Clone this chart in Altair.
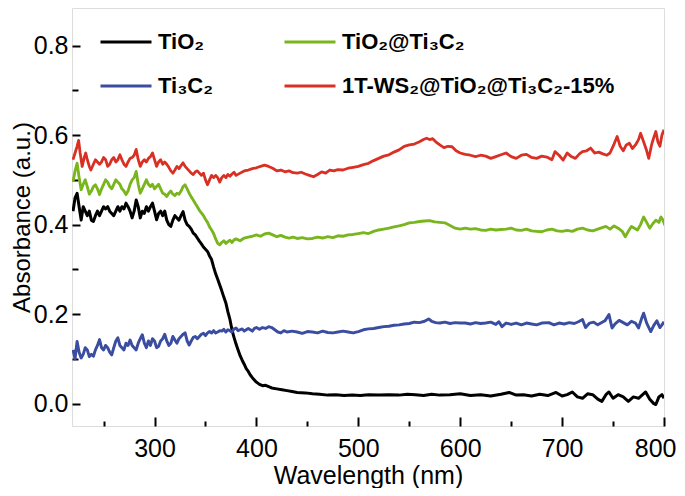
import altair as alt
import pandas as pd

# legend is filled column by column: TiO2, Ti3C2 | TiO2@Ti3C2, 1T-WS2@...
series_names = ["TiO₂", "Ti₃C₂", "TiO₂@Ti₃C₂", "1T-WS₂@TiO₂@Ti₃C₂-15%"]
series_colors = ["#000000", "#3A4DA0", "#79B51C", "#DA3024"]
series_widths = [3.0, 2.8, 3.0, 2.8]

x_major = [300, 400, 500, 600, 700, 800]
x_minor = [250, 350, 450, 550, 650, 750]
y_major = [0.0, 0.2, 0.4, 0.6, 0.8]
y_minor = [0.1, 0.3, 0.5, 0.7]

# TiO2 (black)
tio2_wl = [220, 222, 224, 226, 228, 230, 232, 234, 236, 238, 240, 242, 244, 246, 248, 250, 252, 254, 256, 258,
           260, 262, 264, 266, 268, 270, 272, 274, 276, 278, 280, 282, 284, 286, 288, 290, 292, 294, 296, 298,
           300, 302, 304, 306, 308, 310, 312, 314, 316, 318, 320, 322, 324, 326, 328, 330, 332, 334, 336, 338,
           340, 342, 344, 346, 348, 350, 352, 354, 356, 358, 360, 362, 364, 366, 368, 370, 372, 374, 376, 378,
           380, 382, 384, 386, 388, 390, 392, 394, 396, 398, 400, 403, 406, 409, 412, 415, 420, 425, 430, 435,
           440, 448, 455, 462, 470, 478, 486, 494, 502, 510, 520, 530, 540, 548, 556, 564, 572, 580, 590, 600,
           610, 620, 630, 640, 648, 655, 662, 670, 678, 686, 694, 700, 705, 710, 715, 720, 725, 730, 735, 739,
           743, 746, 750, 755, 760, 765, 770, 775, 779, 782, 786, 790, 792, 795, 798, 800]
tio2_abs = [0.43, 0.46, 0.47, 0.44, 0.41, 0.44, 0.43, 0.42, 0.43, 0.41, 0.407, 0.42, 0.43, 0.42, 0.43, 0.44, 0.435, 0.44, 0.43, 0.425,
            0.42, 0.43, 0.44, 0.43, 0.44, 0.435, 0.448, 0.44, 0.43, 0.415, 0.43, 0.455, 0.44, 0.415, 0.43, 0.425, 0.44, 0.43, 0.44, 0.448,
            0.43, 0.411, 0.425, 0.43, 0.42, 0.43, 0.41, 0.40, 0.396, 0.41, 0.42, 0.415, 0.41, 0.42, 0.429, 0.41, 0.40, 0.396, 0.39, 0.381,
            0.377, 0.37, 0.363, 0.357, 0.35, 0.345, 0.34, 0.33, 0.322, 0.305, 0.29, 0.278, 0.265, 0.252, 0.238, 0.225, 0.205, 0.188, 0.165, 0.148,
            0.133, 0.12, 0.107, 0.097, 0.088, 0.078, 0.072, 0.064, 0.058, 0.053, 0.048, 0.043, 0.040, 0.041, 0.038, 0.035, 0.033, 0.031, 0.029, 0.027,
            0.025, 0.024, 0.022, 0.021, 0.019, 0.02, 0.018, 0.019, 0.018, 0.02, 0.019, 0.02, 0.019, 0.021, 0.02, 0.018, 0.021, 0.019, 0.02, 0.022,
            0.018, 0.02, 0.017, 0.021, 0.025, 0.019, 0.02, 0.017, 0.021, 0.018, 0.025, 0.017, 0.02, 0.026, 0.015, 0.012, 0.022, 0.02, 0.01, 0.005,
            0.02, 0.026, 0.012, 0.02, 0.015, 0.005, 0.015, 0.012, 0.02, 0.026, 0.01, 0.0, -0.002, 0.015, 0.02, 0.012]

# Ti3C2 (blue)
ti3c2_wl = [220, 222, 224, 226, 228, 230, 232, 234, 236, 238, 240, 242, 244, 246, 248, 250, 252, 254, 256, 258,
            260, 262, 264, 266, 268, 270, 272, 274, 276, 278, 280, 282, 284, 286, 288, 290, 292, 294, 296, 298,
            300, 302, 304, 306, 308, 310, 312, 314, 316, 318, 320, 322, 324, 326, 328, 330, 332, 334, 336, 338,
            340, 342, 344, 346, 348, 350, 352, 354, 356, 358, 360, 362, 364, 366, 368, 370, 372, 374, 376, 378,
            380, 382, 384, 386, 388, 390, 392, 394, 396, 398, 400, 403, 406, 409, 412, 415, 418, 421, 424, 427,
            430, 435, 440, 445, 450, 455, 460, 465, 470, 475, 480, 485, 490, 495, 500, 505, 510, 515, 520, 525,
            530, 535, 540, 545, 550, 555, 560, 565, 569, 572, 576, 580, 585, 590, 595, 600, 605, 610, 615, 620,
            625, 630, 635, 638, 641, 645, 650, 655, 660, 665, 670, 675, 680, 687, 692, 697, 702, 707, 712, 716,
            720, 723, 727, 731, 735, 738, 742, 746, 749, 752, 756, 760, 764, 768, 772, 775, 778, 780, 783, 787,
            790, 793, 796, 798, 800]
ti3c2_abs = [0.12, 0.10, 0.139, 0.115, 0.102, 0.11, 0.125, 0.12, 0.105, 0.11, 0.106, 0.12, 0.13, 0.143, 0.125, 0.12, 0.13, 0.125, 0.115, 0.109,
             0.125, 0.14, 0.147, 0.13, 0.125, 0.12, 0.135, 0.13, 0.142, 0.13, 0.125, 0.12, 0.135, 0.145, 0.154, 0.135, 0.125, 0.14, 0.13, 0.145,
             0.14, 0.125, 0.128, 0.14, 0.145, 0.155, 0.14, 0.13, 0.135, 0.15, 0.142, 0.135, 0.145, 0.15, 0.155, 0.158, 0.14, 0.131, 0.14, 0.148,
             0.15, 0.145, 0.15, 0.155, 0.157, 0.152, 0.158, 0.161, 0.158, 0.163, 0.158, 0.16, 0.163, 0.162, 0.166, 0.16, 0.165, 0.163, 0.16, 0.167,
             0.169, 0.163, 0.165, 0.167, 0.162, 0.165, 0.168, 0.165, 0.162, 0.168, 0.17, 0.166, 0.17, 0.168, 0.172, 0.17, 0.165, 0.16, 0.158, 0.163,
             0.16, 0.162, 0.16, 0.157, 0.161, 0.16, 0.158, 0.162, 0.159, 0.158, 0.16, 0.162, 0.16, 0.158, 0.161, 0.165, 0.167, 0.168, 0.17, 0.172,
             0.173, 0.175, 0.176, 0.178, 0.179, 0.182, 0.181, 0.184, 0.189, 0.184, 0.181, 0.18, 0.182, 0.179, 0.181, 0.18, 0.18, 0.178, 0.181, 0.179,
             0.18, 0.182, 0.177, 0.183, 0.172, 0.18, 0.177, 0.18, 0.176, 0.18, 0.178, 0.176, 0.18, 0.181, 0.176, 0.18, 0.178, 0.181, 0.179, 0.183,
             0.188, 0.17, 0.18, 0.182, 0.176, 0.18, 0.185, 0.199, 0.169, 0.178, 0.186, 0.181, 0.176, 0.184, 0.18, 0.169, 0.19, 0.202, 0.18, 0.161,
             0.175, 0.185, 0.17, 0.176, 0.183]

# TiO2@Ti3C2 (green)
tio2ti3c2_wl = [220, 222, 224, 226, 228, 230, 232, 234, 236, 238, 240, 242, 244, 246, 248, 250, 252, 254, 256, 258,
                260, 262, 264, 266, 268, 270, 272, 274, 276, 278, 280, 282, 284, 286, 288, 290, 292, 294, 296, 298,
                300, 302, 304, 306, 308, 310, 312, 314, 316, 318, 320, 322, 324, 326, 328, 330, 332, 334, 336, 338,
                340, 342, 344, 346, 348, 350, 352, 354, 356, 358, 360, 362, 364, 366, 368, 370, 372, 374, 376, 378,
                380, 384, 388, 392, 396, 400, 404, 408, 412, 416, 420, 424, 428, 432, 436, 440, 445, 450, 455, 460,
                465, 470, 475, 480, 485, 490, 495, 500, 505, 510, 515, 520, 525, 530, 535, 540, 545, 550, 555, 560,
                565, 570, 575, 580, 585, 590, 595, 600, 605, 610, 615, 620, 625, 630, 635, 640, 645, 650, 655, 660,
                665, 670, 675, 680, 685, 690, 695, 700, 705, 710, 715, 720, 725, 730, 735, 740, 743, 747, 751, 755,
                759, 762, 765, 768, 771, 774, 777, 780, 783, 786, 789, 792, 795, 797, 799, 801]
tio2ti3c2_abs = [0.496, 0.52, 0.537, 0.505, 0.478, 0.49, 0.50, 0.485, 0.468, 0.475, 0.485, 0.489, 0.48, 0.467, 0.48, 0.49, 0.50, 0.495, 0.485, 0.48,
                 0.49, 0.50, 0.495, 0.49, 0.48, 0.475, 0.467, 0.475, 0.49, 0.50, 0.505, 0.519, 0.49, 0.47, 0.48, 0.49, 0.50, 0.49, 0.485, 0.49,
                 0.48, 0.485, 0.49, 0.48, 0.47, 0.468, 0.463, 0.47, 0.475, 0.468, 0.465, 0.47, 0.468, 0.475, 0.485, 0.489, 0.48, 0.47, 0.462, 0.455,
                 0.447, 0.44, 0.432, 0.426, 0.42, 0.412, 0.405, 0.395, 0.388, 0.38, 0.368, 0.358, 0.355, 0.36, 0.364, 0.358, 0.362, 0.365, 0.36, 0.366,
                 0.368, 0.364, 0.37, 0.372, 0.374, 0.377, 0.374, 0.379, 0.381, 0.377, 0.373, 0.376, 0.372, 0.37, 0.372, 0.369, 0.371, 0.368, 0.369, 0.372,
                 0.37, 0.373, 0.371, 0.375, 0.374, 0.377, 0.378, 0.38, 0.382, 0.38, 0.385, 0.388, 0.39, 0.392, 0.395, 0.397, 0.40, 0.404, 0.405, 0.407,
                 0.408, 0.409, 0.406, 0.405, 0.404, 0.398, 0.392, 0.39, 0.392, 0.39, 0.391, 0.388, 0.387, 0.39, 0.388, 0.389, 0.39, 0.392, 0.388, 0.387,
                 0.39, 0.386, 0.385, 0.384, 0.388, 0.39, 0.386, 0.385, 0.387, 0.385, 0.39, 0.392, 0.388, 0.386, 0.39, 0.394, 0.396, 0.39, 0.397, 0.392,
                 0.385, 0.373, 0.385, 0.396, 0.392, 0.388, 0.40, 0.417, 0.405, 0.392, 0.402, 0.41, 0.405, 0.417, 0.41, 0.398]

# 1T-WS2@TiO2@Ti3C2-15% (red)
ws2_wl = [220, 222, 224, 225.5, 227, 229, 231, 232.5, 234, 236, 237.5, 240, 242, 244, 246, 248, 250, 252, 254, 256,
          258, 260, 262, 264, 266, 268, 270, 272, 274, 276, 278, 280, 282, 284, 286, 288, 290, 292, 294, 296,
          298, 300, 302, 304, 306, 308, 310, 312, 314, 316, 318, 320, 322, 324, 326, 328, 330, 332, 334, 336,
          338, 340, 342, 344, 346, 348, 350, 352, 354, 356, 358, 360, 362, 364, 366, 368, 370, 372, 374, 376,
          378, 380, 384, 388, 392, 396, 400, 404, 408, 412, 416, 420, 424, 428, 432, 436, 440, 444, 448, 452,
          456, 460, 464, 468, 472, 476, 480, 485, 490, 495, 500, 505, 510, 515, 520, 525, 530, 535, 540, 545,
          550, 555, 560, 564, 567, 570, 573, 576, 580, 584, 588, 592, 596, 600, 605, 610, 615, 620, 625, 630,
          635, 640, 645, 650, 655, 660, 665, 670, 675, 680, 685, 690, 693, 697, 701, 705, 709, 713, 717, 720,
          724, 728, 732, 736, 740, 744, 747, 751, 754, 757, 760, 763, 766, 769, 772, 775, 777, 780, 783, 785,
          788, 790, 792, 794, 796, 798, 800]
ws2_abs = [0.545, 0.56, 0.575, 0.588, 0.56, 0.53, 0.55, 0.56, 0.545, 0.53, 0.522, 0.535, 0.545, 0.54, 0.535, 0.54, 0.55, 0.545, 0.53, 0.535,
           0.545, 0.55, 0.54, 0.545, 0.556, 0.545, 0.535, 0.53, 0.54, 0.548, 0.55, 0.555, 0.568, 0.545, 0.53, 0.54, 0.545, 0.54, 0.548, 0.552,
           0.56, 0.545, 0.53, 0.54, 0.545, 0.535, 0.54, 0.535, 0.528, 0.52, 0.515, 0.522, 0.53, 0.525, 0.532, 0.538, 0.53, 0.525, 0.52, 0.515,
           0.512, 0.518, 0.52, 0.515, 0.51, 0.515, 0.50, 0.489, 0.50, 0.51, 0.505, 0.51, 0.505, 0.495, 0.505, 0.51, 0.505, 0.512, 0.508, 0.513,
           0.517, 0.51, 0.515, 0.52, 0.522, 0.525, 0.527, 0.53, 0.533, 0.53, 0.526, 0.52, 0.522, 0.518, 0.52, 0.516, 0.515, 0.517, 0.513, 0.51,
           0.507, 0.512, 0.518, 0.515, 0.522, 0.52, 0.523, 0.522, 0.526, 0.528, 0.53, 0.534, 0.537, 0.543, 0.548, 0.553, 0.556, 0.562, 0.567, 0.575,
           0.578, 0.58, 0.585, 0.59, 0.593, 0.59, 0.592, 0.585, 0.578, 0.572, 0.575, 0.574, 0.565, 0.56, 0.557, 0.555, 0.552, 0.555, 0.553, 0.548,
           0.552, 0.556, 0.56, 0.552, 0.548, 0.555, 0.557, 0.55, 0.548, 0.553, 0.551, 0.545, 0.563, 0.555, 0.544, 0.56, 0.552, 0.548, 0.558, 0.563,
           0.565, 0.571, 0.56, 0.562, 0.558, 0.555, 0.56, 0.58, 0.597, 0.575, 0.565, 0.578, 0.582, 0.57, 0.578, 0.59, 0.604, 0.585, 0.565, 0.548,
           0.58, 0.595, 0.608, 0.585, 0.575, 0.60, 0.612]

frames = []
for name, wl, ab in [("TiO₂", tio2_wl, tio2_abs),
                     ("Ti₃C₂", ti3c2_wl, ti3c2_abs),
                     ("TiO₂@Ti₃C₂", tio2ti3c2_wl, tio2ti3c2_abs),
                     ("1T-WS₂@TiO₂@Ti₃C₂-15%", ws2_wl, ws2_abs)]:
    frames.append(pd.DataFrame({"wavelength": wl, "absorbance": ab, "sample": name}))
df = pd.concat(frames, ignore_index=True)

FONT = "Liberation Sans"
x_scale = alt.Scale(domain=[219, 800], nice=False, zero=False)
y_scale = alt.Scale(domain=[-0.05, 0.884], nice=False, zero=False)

color_scale = alt.Scale(domain=series_names, range=series_colors)
width_scale = alt.Scale(domain=series_names, range=series_widths)

legend = alt.Legend(
    title=None, orient="none", legendX=27, legendY=7, columns=2,
    symbolType="stroke", symbolSize=2601, symbolStrokeWidth=3,
    labelFont=FONT, labelFontSize=22, labelFontWeight="bold", labelColor="black",
    labelOffset=5, rowPadding=6, columnPadding=65, padding=0, labelLimit=500,
)

lines = alt.Chart(df).mark_line(clip=True, strokeJoin="round").encode(
    x=alt.X("wavelength:Q", scale=x_scale,
            axis=alt.Axis(values=x_major, orient="bottom", title="Wavelength (nm)", grid=False, domain=False,
                          offset=-9, tickSize=9, tickWidth=2, tickColor="black",
                          labelFont=FONT, labelFontSize=25, labelColor="black", labelPadding=10,
                          labelFlush=True, labelFlushOffset=12,
                          titleFont=FONT, titleFontSize=25, titleFontWeight="normal", titleColor="black",
                          titlePadding=2)),
    y=alt.Y("absorbance:Q", scale=y_scale,
            axis=alt.Axis(values=y_major, orient="left", format=".1f", title="Absorbance (a.u.)", grid=False,
                          domain=False, offset=-8, tickSize=8, tickWidth=2, tickColor="black",
                          labelFont=FONT, labelFontSize=25, labelColor="black", labelPadding=4,
                          titleFont=FONT, titleFontSize=24, titleFontWeight="normal", titleColor="black",
                          titlePadding=-1)),
    color=alt.Color("sample:N", scale=color_scale, sort=series_names, legend=legend),
    strokeWidth=alt.StrokeWidth("sample:N", scale=width_scale, sort=series_names, legend=None),
)

minor = alt.Chart(df).mark_point(opacity=0).encode(
    x=alt.X("wavelength:Q", scale=x_scale,
            axis=alt.Axis(values=x_minor, orient="bottom", title=None, grid=False, domain=False, labels=False,
                          offset=-5, tickSize=5, tickWidth=2, tickColor="black")),
    y=alt.Y("absorbance:Q", scale=y_scale,
            axis=alt.Axis(values=y_minor, orient="left", title=None, grid=False, domain=False, labels=False,
                          offset=-6, tickSize=6, tickWidth=2, tickColor="black")),
)

chart = alt.layer(lines, minor).resolve_axis(x="independent", y="independent").properties(
    width=592, height=418,
    autosize=alt.AutoSizeParams(type="none"),
    padding={"left": 64, "top": 0, "right": 13, "bottom": 62},
).configure_view(stroke="black", strokeWidth=2).configure(background="white")

chart.save("out.html", embed_options={"renderer": "svg", "actions": False})
